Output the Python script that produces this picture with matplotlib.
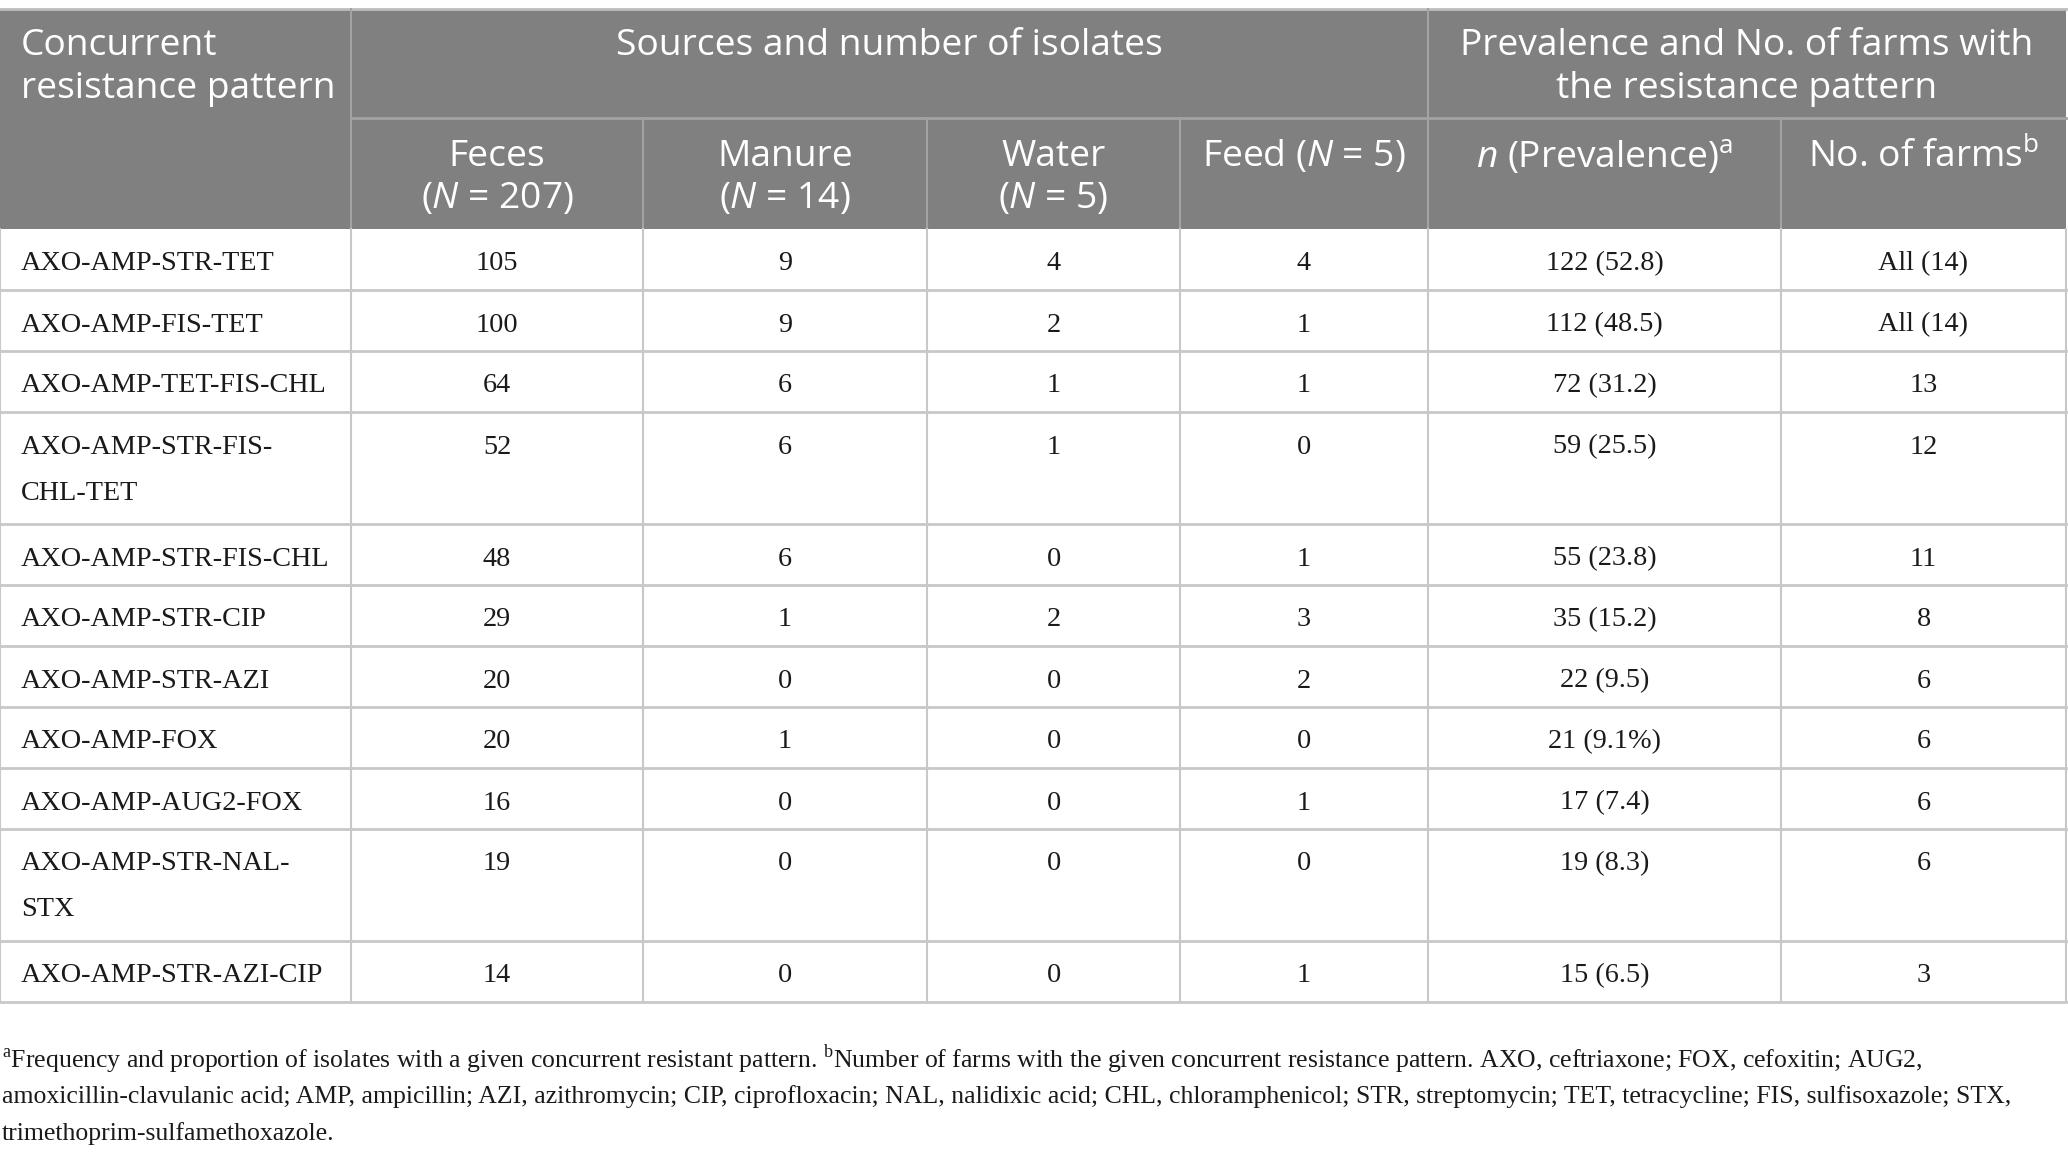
import matplotlib
matplotlib.use("Agg")
import matplotlib.pyplot as plt
from matplotlib.patches import Rectangle

plt.rcParams['mathtext.fontset'] = 'custom'
plt.rcParams['mathtext.sf'] = 'Open Sans'
plt.rcParams['mathtext.rm'] = 'Liberation Serif'
plt.rcParams['mathtext.it'] = 'Open Sans:italic'

# table content
patterns = ["AXO-AMP-STR-TET", "AXO-AMP-FIS-TET", "AXO-AMP-TET-FIS-CHL",
            "AXO-AMP-STR-FIS-\nCHL-TET", "AXO-AMP-STR-FIS-CHL", "AXO-AMP-STR-CIP",
            "AXO-AMP-STR-AZI", "AXO-AMP-FOX", "AXO-AMP-AUG2-FOX",
            "AXO-AMP-STR-NAL-\nSTX", "AXO-AMP-STR-AZI-CIP"]
feces = [105, 100, 64, 52, 48, 29, 20, 20, 16, 19, 14]
manure = [9, 9, 6, 6, 6, 1, 0, 1, 0, 0, 0]
water = [4, 2, 1, 1, 0, 2, 0, 0, 0, 0, 0]
feed = [4, 1, 1, 0, 1, 3, 2, 0, 1, 0, 1]
prevalence = ["122 (52.8)", "112 (48.5)", "72 (31.2)", "59 (25.5)", "55 (23.8)",
              "35 (15.2)", "22 (9.5)", "21 (9.1%)", "17 (7.4)", "19 (8.3)", "15 (6.5)"]
farms = ["All (14)", "All (14)", "13", "12", "11", "8", "6", "6", "6", "6", "3"]

group_headers = ["Concurrent\nresistance pattern", "Sources and number of isolates",
                 "Prevalence and No. of farms with\nthe resistance pattern"]
sub_headers = ["", "Feces\n($N$ = 207)", "Manure\n($N$ = 14)", "Water\n($N$ = 5)",
               "Feed ($N$ = 5)", r"$n$ (Prevalence)$^{\mathsf{a}}$",
               r"No. of farms$^{\mathsf{b}}$"]
footnote = [
    r"$^{\mathrm{a}}$Frequency and proportion of isolates with a given concurrent resistant pattern. "
    r"$^{\mathrm{b}}$Number of farms with the given concurrent resistance pattern. "
    "AXO, ceftriaxone; FOX, cefoxitin; AUG2,",
    "amoxicillin-clavulanic acid; AMP, ampicillin; AZI, azithromycin; CIP, ciprofloxacin; "
    "NAL, nalidixic acid; CHL, chloramphenicol; STR, streptomycin; TET, tetracycline; "
    "FIS, sulfisoxazole; STX,",
    "trimethoprim-sulfamethoxazole.",
]

# layout (pixels)
col_x = [0, 351, 643, 927, 1180, 1428, 1781, 2066]
head_top, head_mid, head_bot = 9, 118, 229
HEAD_BG = '#808080'
HEAD_LINE = '#a3a3a3'
GRID = '#c8c8c8'
sans = ['Open Sans', 'DejaVu Sans']
serif = ['Liberation Serif', 'DejaVu Serif']

fig = plt.figure(figsize=(20.68, 11.6), dpi=100)
ax = fig.add_axes([0, 0, 1, 1])
ax.set_xlim(0, 2068)
ax.set_ylim(1160, 0)
ax.axis('off')

# header background
ax.add_patch(Rectangle((col_x[0], head_top), col_x[-1] - col_x[0], head_bot - head_top,
                       facecolor=HEAD_BG, edgecolor='none'))
ax.plot([col_x[0], col_x[-1]], [head_top, head_top], color='#bdbdbd', lw=2)
ax.plot([col_x[1], col_x[-1]], [head_mid, head_mid], color=HEAD_LINE, lw=2)
for x in [col_x[1], col_x[5]]:
    ax.plot([x, x], [head_top, head_bot], color=HEAD_LINE, lw=1.5)
for x in [col_x[2], col_x[3], col_x[4], col_x[6]]:
    ax.plot([x, x], [head_mid, head_bot], color=HEAD_LINE, lw=1.5)

hsize = 26.7
# group header row
for i, line in enumerate(group_headers[0].split('\n')):
    ax.text(21, head_top + 37 + 43 * i, line, ha='left', va='center',
            color='white', fontsize=hsize, family=sans)
ax.text((col_x[1] + col_x[5]) / 2, head_top + 37, group_headers[1], ha='center',
        va='center', color='white', fontsize=hsize, family=sans)
for i, line in enumerate(group_headers[2].split('\n')):
    ax.text((col_x[5] + col_x[7]) / 2, head_top + 37 + 43 * i, line, ha='center',
            va='center', color='white', fontsize=hsize, family=sans)

# sub header row
for c, label in enumerate(sub_headers):
    if not label:
        continue
    cx = (col_x[c] + col_x[c + 1]) / 2
    for i, line in enumerate(label.split('\n')):
        ax.text(cx, head_mid + 39 + 42 * i, line, ha='center', va='center',
                color='white', fontsize=hsize, family=sans)

# body rows
dsize = 20.3
y = head_bot
row_lines = [y]
for r in range(len(patterns)):
    lines = patterns[r].split('\n')
    h = 61 + 51 * (len(lines) - 1)
    for i, line in enumerate(lines):
        ax.text(21, y + 35 + 46 * i, line, ha='left', va='center',
                color='#1a1a1a', fontsize=dsize, family=serif)
    cells = [feces[r], manure[r], water[r], feed[r], prevalence[r], farms[r]]
    for c, val in enumerate(cells):
        cx = (col_x[c + 1] + col_x[c + 2]) / 2
        ax.text(cx, y + 35, str(val), ha='center', va='center',
                color='#1a1a1a', fontsize=dsize, family=serif)
    y += h
    row_lines.append(y)

for yy in row_lines[1:]:
    ax.plot([col_x[0], col_x[-1]], [yy, yy], color=GRID, lw=2)
for x in col_x:
    ax.plot([x, x], [head_bot, row_lines[-1]], color=GRID, lw=1.5)

# footnote
for i, line in enumerate(footnote):
    ax.text(2, 1060 + 37 * i, line, ha='left', va='center',
            color='#1a1a1a', fontsize=18.5, family=serif)

fig.savefig('out.png', dpi=100)
